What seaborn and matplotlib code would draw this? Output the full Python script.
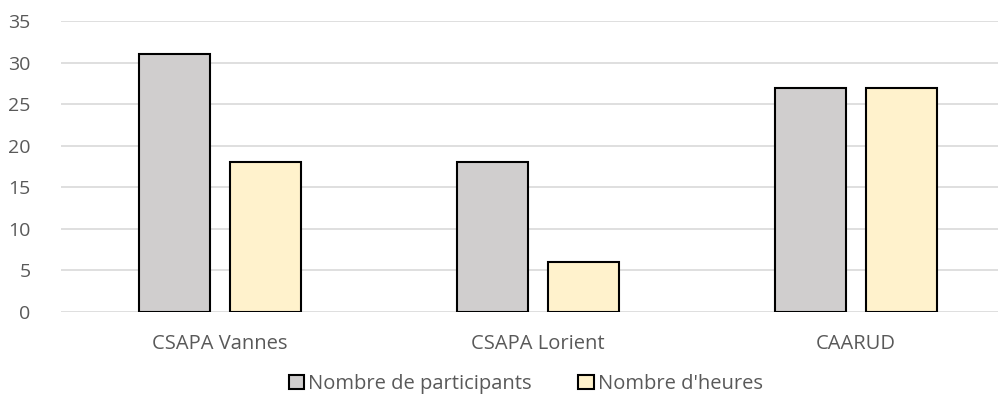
import matplotlib
matplotlib.use("Agg")
import matplotlib.pyplot as plt
import seaborn as sns
import pandas as pd

# ------------------------------------------
# Data
# ------------------------------------------
categories = ["CSAPA Vannes", "CSAPA Lorient", "CAARUD"]
participants = [31, 18, 27]
heures = [18, 6, 27]
series_names = ["Nombre de participants", "Nombre d'heures"]

df = pd.DataFrame({
    "site": categories * 2,
    "valeur": participants + heures,
    "serie": [series_names[0]] * 3 + [series_names[1]] * 3,
})

sns.set_style("white")
plt.rcParams["font.family"] = ["Open Sans", "DejaVu Sans"]

fig = plt.figure(figsize=(9.98, 4.05), dpi=100)
ax = fig.add_axes([61 / 998, 1 - 312 / 405, 1 - 61 / 998, (312 - 21) / 405])

sns.barplot(
    data=df,
    x="site",
    y="valeur",
    hue="serie",
    palette=["#D0CECE", "#FFF2CC"],
    saturation=1,
    width=0.572,
    gap=0.22,
    edgecolor="black",
    linewidth=1.5,
    ax=ax,
    zorder=3,
)

ax.set_ylim(0, 35)
ax.set_xlim(-0.5, (998 - 220) / 318)
ax.set_yticks(range(0, 36, 5))
ax.yaxis.grid(True, color="#D9D9D9", linewidth=1.2, zorder=0)
ax.set_axisbelow(True)
for s in ax.spines.values():
    s.set_visible(False)
ax.set_xlabel("")
ax.set_ylabel("")
ax.tick_params(axis="both", length=0, colors="#595959")
ax.tick_params(axis="x", pad=16, labelsize=14.5)
ax.tick_params(axis="y", pad=22, labelsize=14)

handles, labels = ax.get_legend_handles_labels()
ax.legend_.remove()
fig.legend(
    handles, labels,
    loc="center", bbox_to_anchor=(0.527, 1 - 384 / 405),
    ncol=2, frameon=False, fontsize=14.5,
    handlelength=0.75, handleheight=0.75, handletextpad=0.2,
    columnspacing=2.3, labelcolor="#595959",
)

fig.savefig("out.png", dpi=100)
